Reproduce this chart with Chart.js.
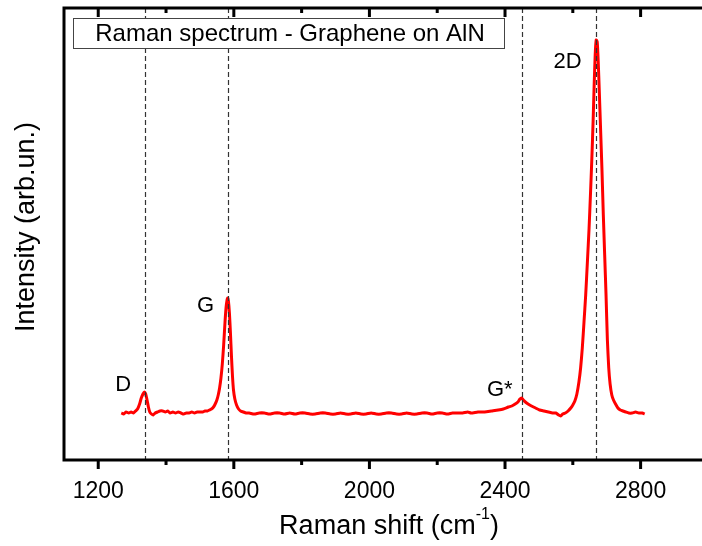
<!DOCTYPE html>
<html>
<head>
<meta charset="utf-8">
<script src="https://cdn.jsdelivr.net/npm/chart.js@4"></script>
<style>
  html, body { margin: 0; padding: 0; background: #fff; overflow: hidden; }
  #wrap { width: 706px; height: 546px; position: relative; }
</style>
</head>
<body>
<div id="wrap"><canvas id="grafic"></canvas></div>
<script>
// Raman shift (cm-1) si intensitate (unitati arbitrare)
const ramanShift = [
  1268, 1275, 1282, 1290, 1297, 1304, 1310, 1316, 1322, 1327, 1332, 1336, 1340, 1344, 1348, 1352,
  1357, 1362, 1368, 1375, 1382, 1390, 1398, 1405, 1412, 1420, 1428, 1436, 1444, 1452, 1460, 1468,
  1476, 1484, 1492, 1500, 1508, 1515, 1522, 1528, 1534, 1540, 1545, 1550, 1554, 1558, 1562, 1566,
  1570, 1574, 1577, 1580, 1582, 1584, 1587, 1590, 1593, 1596, 1599, 1603, 1608, 1614, 1620, 1628,
  1636, 1645, 1660, 1675, 1690, 1705, 1720, 1735, 1750, 1765, 1780, 1795, 1810, 1825, 1840, 1855,
  1870, 1885, 1900, 1915, 1930, 1945, 1960, 1975, 1990, 2005, 2020, 2035, 2050, 2065, 2080, 2095,
  2110, 2125, 2140, 2155, 2170, 2185, 2200, 2215, 2230, 2245, 2260, 2275, 2290, 2300, 2320, 2340,
  2360, 2380, 2395, 2410, 2420, 2430, 2438, 2444, 2449, 2454, 2460, 2468, 2478, 2490, 2502, 2515,
  2528, 2540, 2550, 2558, 2564, 2570, 2578, 2586, 2594, 2600, 2606, 2612, 2618, 2623, 2628, 2633,
  2638, 2643, 2648, 2652, 2656, 2660, 2663, 2666, 2669, 2672, 2675, 2678, 2682, 2686, 2690, 2694,
  2698, 2702, 2706, 2710, 2715, 2720, 2726, 2733, 2740, 2748, 2756, 2765, 2775, 2785, 2795, 2805,
  2812
];
const intensity = [
  47, 46, 48, 47, 48, 47, 49, 51, 56, 62, 66, 68, 66, 60, 53, 48,
  46, 45, 47, 48, 49, 49, 48, 49, 47, 48, 47, 48, 47, 46, 47, 47,
  48, 47, 48, 48, 48, 49, 49, 50, 51, 53, 56, 60, 65, 72, 82, 96,
  115, 138, 152, 160, 162, 159, 147, 127, 104, 84, 70, 61, 55, 51, 49, 48,
  47, 47, 46, 47, 47, 46, 47, 47, 46, 47, 46, 47, 47, 46, 46, 47,
  47, 46, 46, 47, 46, 46, 47, 46, 46, 47, 46, 46, 47, 47, 46, 46,
  47, 46, 46, 47, 47, 46, 47, 47, 46, 47, 47, 47, 48, 47, 48, 48,
  49, 50, 51, 53, 54, 56, 58, 61, 62, 60, 58, 56, 54, 52, 50, 49,
  48, 47, 47, 45, 44, 46, 47, 49, 52, 55, 59, 66, 78, 92, 112, 138,
  165, 198, 232, 265, 300, 340, 375, 405, 420, 418, 398, 370, 330, 290, 245, 205,
  165, 120, 92, 76, 65, 60, 56, 52, 50, 49, 48, 47, 47, 48, 47, 47,
  46
];

const xMin = 1099;
const xMax = 2987;
const xTickValues = [1200, 1600, 2000, 2400, 2800];
const xMinorTicks = [1400, 1800, 2200, 2600];
const peakPositions = [1338, 1583, 2449, 2667];
const peakNames = ['D', 'G', 'G*', '2D'];

const FONT = "'Liberation Sans', Arial, sans-serif";

// axe, linii punctate, etichete - desenate peste grafic
const axePlugin = {
  id: 'axe',
  afterDatasetsDraw(chart) {
    const { ctx, chartArea: a, scales: { x, y } } = chart;
    ctx.save();

    // linii verticale punctate la pozitiile picurilor
    ctx.strokeStyle = '#333';
    ctx.lineWidth = 1.2;
    ctx.setLineDash([5, 3]);
    peakPositions.forEach((p) => {
      const px = Math.round(x.getPixelForValue(p)) + 0.5;
      ctx.beginPath();
      ctx.moveTo(px, a.top);
      ctx.lineTo(px, a.bottom);
      ctx.stroke();
    });
    ctx.setLineDash([]);

    // caseta cu titlul
    ctx.fillStyle = '#fff';
    ctx.fillRect(73.5, 18.5, 431, 30);
    ctx.strokeStyle = '#444';
    ctx.lineWidth = 1;
    ctx.strokeRect(73.5, 18.5, 431, 30);
    ctx.fillStyle = '#000';
    ctx.font = `24px ${FONT}`;
    ctx.textAlign = 'center';
    ctx.textBaseline = 'middle';
    ctx.fillText('Raman spectrum - Graphene on AlN', 290, 34);

    // etichete picuri
    const nivel = [75, 154, 70, 398];
    const dx = [14, 14, 9, 14];
    ctx.font = `22px ${FONT}`;
    ctx.textAlign = 'right';
    peakNames.forEach((n, i) => {
      ctx.fillText(n, x.getPixelForValue(peakPositions[i]) - dx[i], y.getPixelForValue(nivel[i]));
    });

    // rama
    ctx.strokeStyle = '#000';
    ctx.lineWidth = 3;
    ctx.beginPath();
    ctx.moveTo(a.left, a.top);
    ctx.lineTo(a.left, a.bottom);
    ctx.lineTo(a.right, a.bottom);
    ctx.moveTo(a.left - 1.5, a.top);
    ctx.lineTo(a.right, a.top);
    ctx.stroke();

    // gradatii: in afara jos, in interior sus
    ctx.lineWidth = 3;
    const tick = (v, len) => {
      const px = x.getPixelForValue(v);
      ctx.beginPath();
      ctx.moveTo(px, a.bottom);
      ctx.lineTo(px, a.bottom + len);
      ctx.moveTo(px, a.top);
      ctx.lineTo(px, a.top + len);
      ctx.stroke();
    };
    xTickValues.forEach((v) => tick(v, 9));
    xMinorTicks.forEach((v) => tick(v, 5));

    ctx.font = `23px ${FONT}`;
    ctx.textAlign = 'center';
    ctx.textBaseline = 'middle';
    xTickValues.forEach((v) => ctx.fillText(String(v), x.getPixelForValue(v), 492));

    // titlu axa x cu exponent
    ctx.font = `27px ${FONT}`;
    const t1 = 'Raman shift (cm';
    const w1 = ctx.measureText(t1).width;
    ctx.font = `16px ${FONT}`;
    const w2 = ctx.measureText('-1').width;
    ctx.font = `27px ${FONT}`;
    const w3 = ctx.measureText(')').width;
    let sx = 389 - (w1 + w2 + w3) / 2;
    ctx.textAlign = 'left';
    ctx.fillText(t1, sx, 527);
    ctx.font = `16px ${FONT}`;
    ctx.fillText('-1', sx + w1, 515);
    ctx.font = `27px ${FONT}`;
    ctx.fillText(')', sx + w1 + w2, 527);

    // titlu axa y
    ctx.translate(27, 227);
    ctx.rotate(-Math.PI / 2);
    ctx.textAlign = 'center';
    ctx.fillText('Intensity (arb.un.)', 0, 0);

    ctx.restore();
  }
};

new Chart(document.getElementById('grafic'), {
  type: 'line',
  data: {
    datasets: [{
      data: ramanShift.map((v, i) => ({ x: v, y: intensity[i] })),
      borderColor: '#ff0000',
      borderWidth: 3,
      pointRadius: 0,
      tension: 0.2,
      fill: false
    }]
  },
  options: {
    responsive: true,
    maintainAspectRatio: false,
    animation: false,
    layout: { padding: { left: 64, top: 8, right: 2, bottom: 86 } },
    plugins: { legend: { display: false }, tooltip: { enabled: false } },
    scales: {
      x: { type: 'linear', display: false, min: xMin, max: xMax },
      y: { type: 'linear', display: false, min: 0, max: 452 }
    }
  },
  plugins: [axePlugin]
});
</script>
</body>
</html>
